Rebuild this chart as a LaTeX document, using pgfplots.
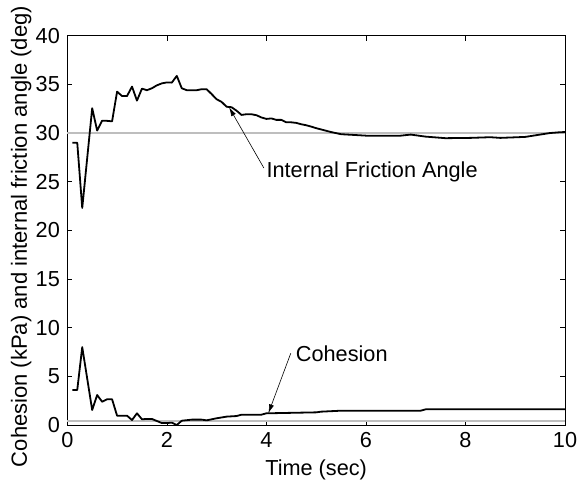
\documentclass[border=0pt]{standalone}
\usepackage{fontspec}
\setmainfont{Liberation Sans}
\usepackage{pgfplots}
\pgfplotsset{compat=1.18}
\usetikzlibrary{arrows.meta}
\definecolor{refgray}{RGB}{190,190,190}
\begin{document}
\fontsize{21.7bp}{26bp}\selectfont
\begin{tikzpicture}
\begin{axis}[
  scale only axis, width=497.7bp, height=389.3bp,
  xmin=0, xmax=10, ymin=0, ymax=40,
  xtick={0,2,...,10}, ytick={0,5,...,40},
  tick align=inside, major tick length=5bp,
  axis line style={line width=0.9bp},
  every tick/.style={black, line width=0.6bp},
  /pgf/number format/assume math mode=true,
  xlabel={Time (sec)},
  ylabel={Cohesion (kPa) and internal friction angle (deg)},
  xlabel style={at={(axis description cs:0.5,-0.1156)}, anchor=center},
  ylabel style={at={(axis description cs:-0.0924,0.484)}, anchor=center, font=\fontsize{22bp}{26bp}\selectfont},
  clip=false,
]
\addplot[refgray, line width=1.5bp] coordinates {(0,30) (10,30)};
\addplot[refgray, line width=1.5bp] coordinates {(0,0.4) (10,0.4)};
% internal friction angle
\addplot[black, line width=1.8bp, line join=round] coordinates {
(0.1,29.0) (0.2,29.0) (0.3,22.3) (0.5,32.55) (0.6,30.25) (0.7,31.27) (0.8,31.25) (0.9,31.2)
(1.0,34.25) (1.1,33.8) (1.2,33.8) (1.3,34.77) (1.4,33.33) (1.5,34.56) (1.6,34.4) (1.7,34.6)
(1.8,34.9) (1.9,35.1) (2.0,35.2) (2.1,35.18) (2.2,35.87) (2.3,34.6) (2.4,34.4) (2.5,34.4)
(2.6,34.4) (2.7,34.5) (2.8,34.5) (2.9,34.0) (3.0,33.47) (3.1,33.2) (3.2,32.7) (3.3,32.65)
(3.4,32.3) (3.5,31.86) (3.6,31.93) (3.7,31.93) (3.8,31.83) (3.9,31.6) (4.0,31.45) (4.1,31.5)
(4.2,31.35) (4.3,31.35) (4.4,31.1) (4.5,31.1) (4.6,31.04) (4.7,30.9) (4.8,30.8) (4.9,30.66)
(5.0,30.5) (5.3,30.1) (5.5,29.88) (6.0,29.73) (6.7,29.73) (6.9,29.84) (7.2,29.63) (7.6,29.47)
(8.1,29.5) (8.5,29.57) (8.7,29.5) (9.2,29.6) (9.5,29.84) (9.7,30.0) (9.9,30.08) (10.0,30.1)
};
% cohesion
\addplot[black, line width=1.8bp, line join=round] coordinates {
(0.1,3.6) (0.2,3.6) (0.3,8.0) (0.5,1.54) (0.6,3.08) (0.7,2.39) (0.8,2.64) (0.9,2.64)
(1.0,0.96) (1.1,0.96) (1.2,0.96) (1.3,0.51) (1.4,1.2) (1.5,0.59) (1.6,0.62) (1.7,0.62)
(1.8,0.41) (1.9,0.2) (2.0,0.2) (2.1,0.24) (2.2,0.0) (2.3,0.44) (2.5,0.55) (2.7,0.55)
(2.8,0.48) (3.0,0.69) (3.2,0.86) (3.4,0.92) (3.5,1.06) (3.7,1.06) (3.9,1.06) (4.0,1.2)
(4.6,1.26) (5.0,1.3) (5.1,1.37) (5.5,1.47) (7.1,1.47) (7.2,1.61) (10.0,1.61)
};
\draw[line width=0.6bp, -{Latex[length=9bp,width=5bp]}] (axis cs:3.95,26.4) -- (axis cs:3.25,32.65);
\node[anchor=west, inner sep=0pt] at (axis cs:4.0,26.0) {Internal Friction Angle};
\draw[line width=0.6bp, -{Latex[length=9bp,width=5bp]}] (axis cs:4.49,7.37) -- (axis cs:4.04,1.2);
\node[anchor=west, inner sep=0pt] at (axis cs:4.59,7.37) {Cohesion};
\end{axis}
\pgfresetboundingbox
\useasboundingbox ([shift={(-67.3bp,-57bp)}]current axis.south west) rectangle ([shift={(14bp,35.7bp)}]current axis.north east);
\end{tikzpicture}
\end{document}
